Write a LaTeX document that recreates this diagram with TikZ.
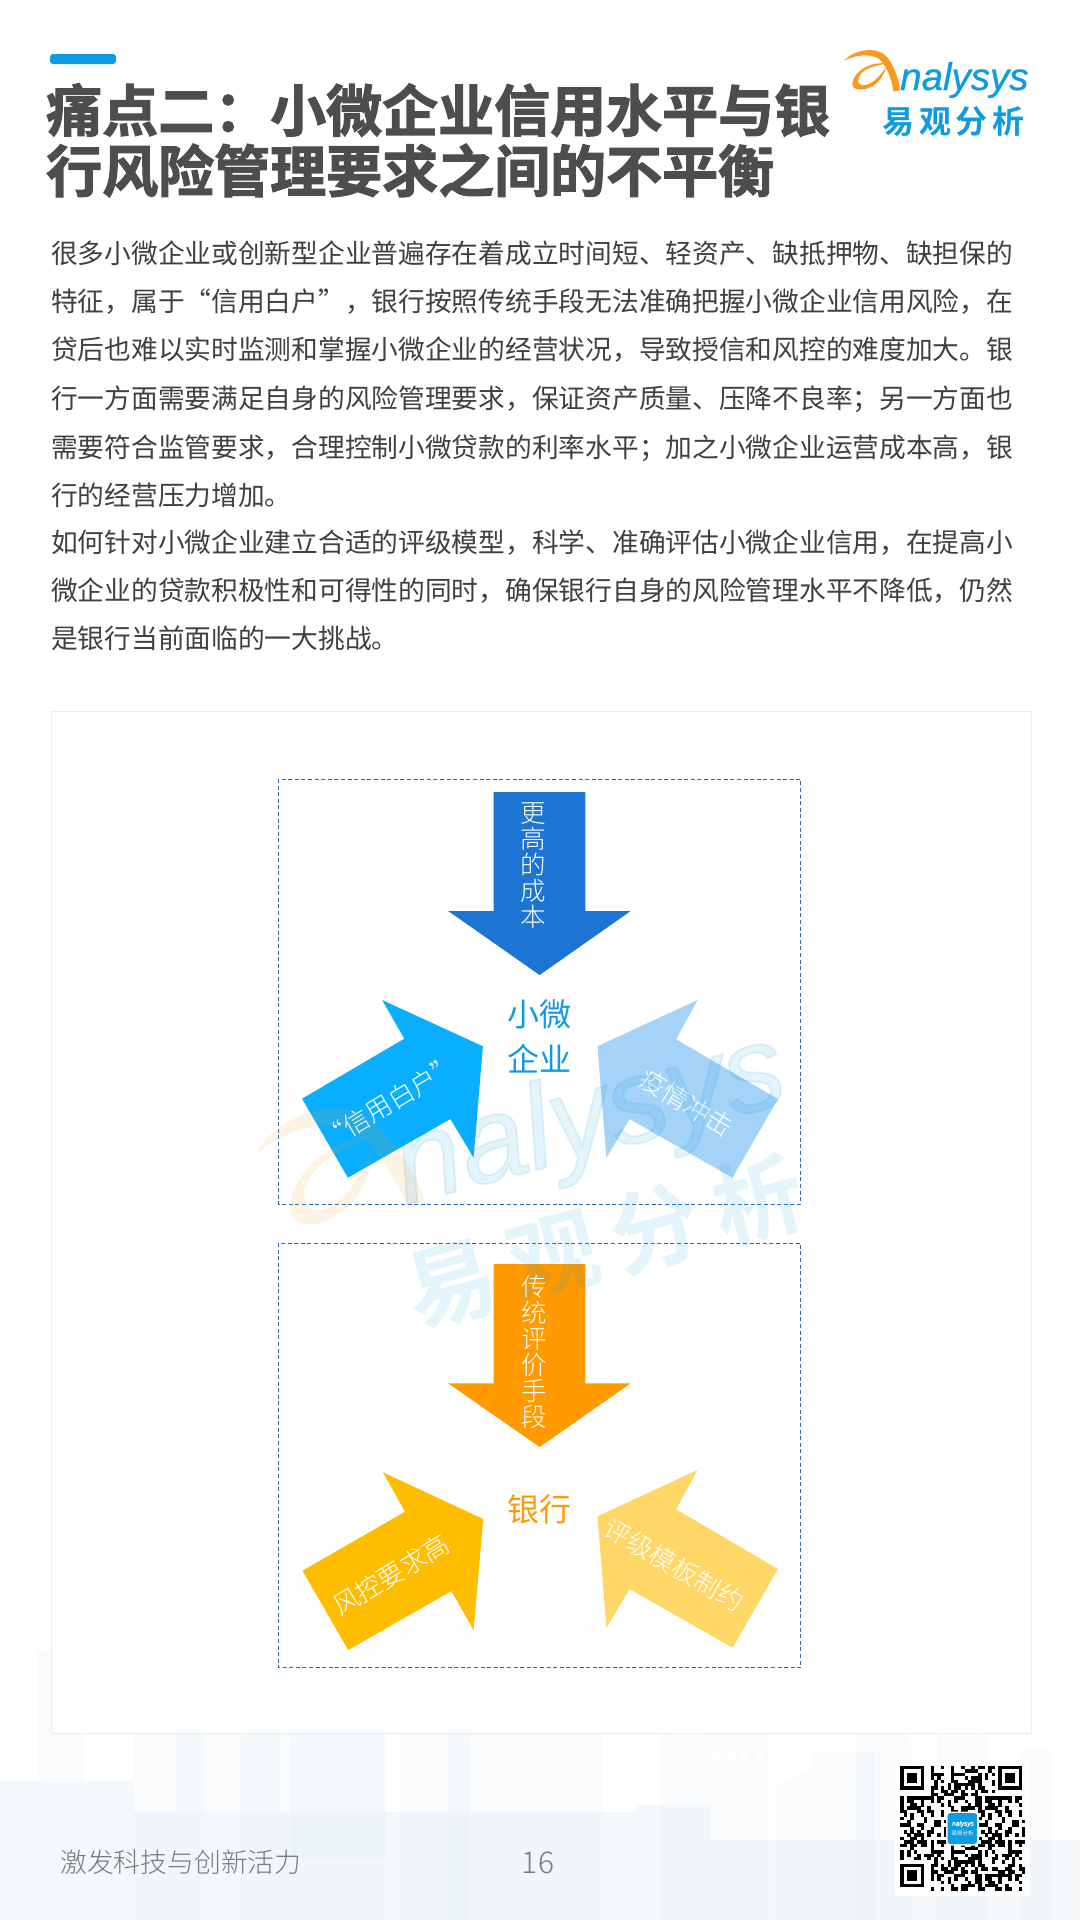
\documentclass[tikz,border=0pt]{standalone}
\usepackage{fontspec}
\setmainfont{Liberation Sans}
\newfontfamily\cjk{Noto Sans CJK SC}
\newfontfamily\cjklight{Noto Sans CJK SC Light}
\newfontfamily\cjkbold{Noto Sans CJK SC Bold}
\newfontfamily\cjkheavy[FakeBold=2]{Noto Sans CJK SC Bold}
\newfontfamily\logolatin[FakeBold=.6]{Liberation Sans Italic}
\newfontfamily\wmlatin[FakeBold=1.6]{Liberation Sans Italic}
\newcommand{\fs}[2]{\fontsize{#1}{#2}\selectfont}
\newcommand{\cm}{^^^^ff0c}
\newcommand{\sm}{^^^^ff1b}
\newcommand{\cn}{^^^^ff1a}
\definecolor{ink}{HTML}{404040}
\definecolor{titleink}{HTML}{4D4D4D}
\definecolor{brand}{HTML}{0E9BE0}
\definecolor{swoosh}{HTML}{F79A1E}
\definecolor{dash}{HTML}{2F6DB0}
\definecolor{bA}{HTML}{1C75D3}
\definecolor{bB}{HTML}{0AAEFF}
\definecolor{bC}{HTML}{A5D3F8}
\definecolor{oA}{HTML}{FF9A00}
\definecolor{oB}{HTML}{FFBD00}
\definecolor{oC}{HTML}{FFD766}
\definecolor{city}{HTML}{E3EEF5}
\tikzset{
  x=1pt,y=-1pt,
  bodyline/.style={anchor=base west,inner sep=0pt,text=ink,font=\cjk\fs{26.72}{30}},
  titleline/.style={anchor=base west,inner sep=0pt,text=titleink,font=\cjkheavy\fs{56}{60}},
  dashbox/.style={draw=dash,line width=.9pt,dash pattern=on 4pt off 2.6pt},
  vlabel/.style={inner sep=0pt,align=center,text=white,font=\cjklight\fs{25.5}{26}},
  rlabel/.style={inner sep=0pt,text=white,font=\cjklight\fs{26}{30}},
  hub/.style={inner sep=0pt,align=center,font=\cjk\fs{32}{45}},
  bldg/.style={fill=city,fill opacity=.2},
  stripe/.style={fill=white,fill opacity=.55},
  wm/.style={inner sep=0pt,text=brand,text opacity=.11},
  qrdark/.style={fill=black},
}
\newcommand{\swooshpath}{%
  \fill[swoosh] (28,62) .. controls (60,25) and (130,20) .. (155,50)
     .. controls (175,75) and (190,110) .. (195,150) -- (175,155)
     .. controls (170,110) and (150,70) .. (130,55)
     .. controls (100,40) and (60,45) .. (28,62) -- cycle;
  \fill[swoosh] (160,72) .. controls (110,60) and (55,95) .. (52,130)
     .. controls (50,155) and (95,155) .. (125,130)
     .. controls (140,115) and (150,95) .. (155,80)
     .. controls (135,110) and (105,140) .. (80,135)
     .. controls (60,130) and (70,100) .. (95,88)
     .. controls (115,78) and (140,72) .. (160,72) -- cycle;
}
\begin{document}
\begin{tikzpicture}
\useasboundingbox (0,0) rectangle (1080,1920);
\fill[white] (0,0) rectangle (1080,1920);
% skyline background
\fill[bldg] (38,1650) rectangle (85,1781);
\fill[bldg] (134,1589) -- (169,1565) -- (205,1589) -- (205,1920) -- (134,1920) -- cycle;
\fill[bldg] (241,1630) -- (300,1572) -- (300,1650) -- (385,1650) -- (385,1920) -- (241,1920) -- cycle;
\fill[bldg] (176,1733) rectangle (280,1812);
\fill[bldg] (290,1650) rectangle (385,1860);
\fill[bldg] (400,1630) rectangle (470,1920);
\fill[bldg] (448,1620) -- (540,1620) -- (540,1920) -- (448,1920) -- cycle;
\fill[bldg] (540,1589) -- (567,1565) -- (602,1589) -- (602,1920) -- (540,1920) -- cycle;
\fill[bldg] (660,1710) -- (686,1690) -- (711,1710) -- (711,1920) -- (660,1920) -- cycle;
\fill[bldg] (711,1725) rectangle (768,1920);
\fill[bldg] (775,1785) -- (812,1770) -- (812,1751) -- (874,1751) -- (874,1920) -- (775,1920) -- cycle;
\fill[bldg] (855,1700) -- (870,1696) -- (911,1740) -- (911,1920) -- (855,1920) -- cycle;
\fill[bldg] (937,1708) -- (960,1691) -- (987,1708) -- (987,1920) -- (937,1920) -- cycle;
\fill[bldg] (1021,1750) rectangle (1052,1920);
\fill[city,fill opacity=.38] (0,1781) rectangle (134,1920);
\fill[city,fill opacity=.38] (134,1812) rectangle (637,1920);
\fill[city,fill opacity=.38] (637,1805) rectangle (711,1920);
\fill[city,fill opacity=.38] (711,1840) rectangle (1080,1920);
\foreach \yy in {1594,1604.5,...,1700}{\fill[stripe] (143,\yy) rectangle (195,\yy+5.5);}
\foreach \yy in {1594,1604.5,...,1700}{\fill[stripe] (542,\yy) rectangle (594,\yy+5.5);}
\foreach \yy in {1710,1717,...,1786}{\fill[stripe] (667,\yy) rectangle (704,\yy+3.5);}
\foreach \yy in {1712,1719,...,1772}{\fill[stripe] (942,\yy) rectangle (980,\yy+3.5);}
\foreach \yy in {1745,1755,...,1780}{\fill[stripe] (44,\yy) rectangle (80,\yy+5);}
\foreach \xx in {713,727,741,755}{\foreach \yy in {1738,1752,...,1800}{\fill[stripe] (\xx,\yy) rectangle (\xx+8,\yy+8);}}
% page furniture
\fill[brand,rounded corners=3pt] (50,54) rectangle (116,64);
\node[titleline] (title1) at (46,131.5) {痛点二\cn 小微企业信用水平与银};
\node[titleline] (title2) at (46,192) {行风险管理要求之间的不平衡};
\begin{scope}[shift={(835,40)},scale=1/3]\swooshpath\end{scope}
\node[anchor=base west,inner sep=0pt,text=brand,font=\logolatin\fs{38.5}{40}] (logolat) at (900,90) {nalysys};
\node[inner sep=0pt,text=brand,font=\cjkbold\fs{32}{36}] (logocjk) at (953.5,121.5) {易\hspace{5pt}观\hspace{5pt}分\hspace{5pt}析};
% body
\node[bodyline] (l1) at (51,263.5) {很多小微企业或创新型企业普遍存在着成立时间短、轻资产、缺抵押物、缺担保的};
\node[bodyline] (l2) at (51,311) {特征\cm 属于“信用白户”\cm 银行按照传统手段无法准确把握小微企业信用风险\cm 在};
\node[bodyline] (l3) at (51,359) {贷后也难以实时监测和掌握小微企业的经营状况\cm 导致授信和风控的难度加大。银};
\node[bodyline] (l4) at (51,408) {行一方面需要满足自身的风险管理要求\cm 保证资产质量、压降不良率\sm 另一方面也};
\node[bodyline] (l5) at (51,457) {需要符合监管要求\cm 合理控制小微贷款的利率水平\sm 加之小微企业运营成本高\cm 银};
\node[bodyline] (l6) at (51,505) {行的经营压力增加。};
\node[bodyline] (l7) at (51,552) {如何针对小微企业建立合适的评级模型\cm 科学、准确评估小微企业信用\cm 在提高小};
\node[bodyline] (l8) at (51,600) {微企业的贷款积极性和可得性的同时\cm 确保银行自身的风险管理水平不降低\cm 仍然};
\node[bodyline] (l9) at (51,648) {是银行当前面临的一大挑战。};
% outer frame
\fill[white,fill opacity=.8] (51,711) rectangle (1031,1733);
\draw[draw=black!8,line width=1pt] (51,711) rectangle (1031,1733);
% upper group
\draw[dashbox] (278.2,779) rectangle (800.7,1204);
\fill[bA] (493.6,792) -- (585.4,792) -- (585.4,911) -- (630.7,911) -- (539.6,975) -- (448.2,911) -- (493.6,911) -- cycle;
\fill[bB] (382.1,1000) -- (404.3,1038.7) -- (302.1,1098.7) -- (347.9,1177.7) -- (450.4,1119) -- (473.6,1157.7) -- (482.9,1046.3) -- cycle;
\fill[bC] (697.5,1000) -- (676.1,1039.3) -- (777.9,1099) -- (732.5,1177.7) -- (629.6,1119) -- (606.4,1157.7) -- (597.5,1046.3) -- cycle;
\node[vlabel] (u1) at (533,866) {更\\高\\的\\成\\本};
\node[rlabel,rotate=31] (u2) at (390,1102) {“信用白户”};
\node[rlabel,rotate=-31] (u3) at (686.8,1103) {疫情冲击};
\node[hub,text=brand] (u0) at (539.6,1036.5) {小微\\企业};
% lower group
\draw[dashbox] (278.2,1243) rectangle (800.7,1667.7);
\fill[oA] (493.6,1264) -- (585.4,1264) -- (585.4,1383.3) -- (630.7,1383.3) -- (539.6,1447) -- (448.2,1383.3) -- (493.6,1383.3) -- cycle;
\fill[oB] (382.9,1472.3) -- (405,1511.7) -- (302.5,1570.7) -- (348.2,1650) -- (451.4,1591) -- (473.6,1630) -- (483.2,1519) -- cycle;
\fill[oC] (697.5,1470) -- (676.1,1509.3) -- (777.9,1569) -- (732.5,1647.7) -- (629.6,1589) -- (606.4,1627.7) -- (597.5,1516.3) -- cycle;
\node[vlabel] (d1) at (534,1351.5) {传\\统\\评\\价\\手\\段};
\node[rlabel,rotate=31] (d2) at (391,1575) {风控要求高};
\node[rlabel,rotate=-30] (d3) at (674,1565) {评级模板制约};
\node[hub,text=oA] (d0) at (539.6,1509) {银行};
% watermark
\begin{scope}[opacity=.12,shift={(255,1155)},rotate=13,scale=.93,shift={(-28,-62)}]\swooshpath\end{scope}
\node[wm,anchor=base west,rotate=15,font=\wmlatin\fs{120}{130}] (wm1) at (405,1205) {nalysys};
\node[wm,rotate=15,font=\cjkbold\fs{90}{100}] (wm2) at (604.5,1241.5) {易\hspace{16pt}观\hspace{16pt}分\hspace{16pt}析};
% footer
\node[inner sep=0pt,anchor=west,text=black!52,font=\cjklight\fs{26.8}{30}] (foot) at (60,1862) {激发科技与创新活力};
\node[inner sep=0pt,text=black!52,font=\cjklight\fs{30}{32}] (page) at (538,1863) {16};
% QR code
\fill[white] (894.5,1760.7) rectangle (1030.4,1896);
\begin{scope}[shift={(900.3,1766)},x=3.38pt,y=-3.37pt]
\foreach \i in {0,...,36}{\foreach \j in {0,...,36}{%
  \edef\qrx{\the\numexpr \i*31+\j*17+\i*\j*7+\i*\i*\j*3+\j*\j*5\relax}%
  \edef\qrh{\the\numexpr \qrx-23*((\qrx-11)/23)\relax}%
  \ifnum\qrh<11 \fill[qrdark] (\i,\j) rectangle ({\i+1.03},{\j+1.03});\fi}}
\foreach \cx/\cy in {0/0,29/0,0/29}{%
  \fill[white] ({\cx-1},{\cy-1}) rectangle ({\cx+9},{\cy+9});
  \fill[qrdark] (\cx,\cy) rectangle ({\cx+7},{\cy+7});
  \fill[white] ({\cx+1},{\cy+1}) rectangle ({\cx+6},{\cy+6});
  \fill[qrdark] ({\cx+2},{\cy+2}) rectangle ({\cx+5},{\cy+5});}
\end{scope}
\fill[white,rounded corners=3pt] (946,1811.5) rectangle (979,1845.5);
\fill[brand,rounded corners=3pt] (947.6,1813) rectangle (977.2,1844);
\node[inner sep=0pt,text=white,font=\logolatin\fs{6.5}{7}] (qrl) at (963,1824) {nalysys};
\node[inner sep=0pt,text=white,font=\cjk\fs{5.5}{6}] (qrc) at (962.5,1833) {易观分析};
\end{tikzpicture}
\end{document}
